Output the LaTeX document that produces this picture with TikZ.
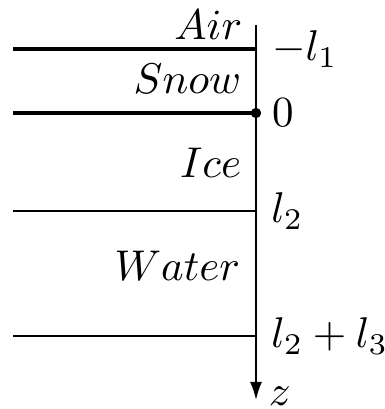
\documentclass[tikz,border=0pt]{standalone}
\usetikzlibrary{arrows.meta}
\begin{document}
\begin{tikzpicture}[x=0.23256pt,y=-0.23256pt,
  thickline/.style={line width=0.8pt},
  thinline/.style={line width=0.45pt},
  layer/.style={anchor=base east, inner sep=0pt},
  ticklabel/.style={anchor=west}]
\useasboundingbox (0,0) rectangle (384,409);
\coordinate (top) at (256,25);
\coordinate (bot) at (256,400);
\coordinate (a1) at (13,49);  \coordinate (b1) at (256,49);
\coordinate (a2) at (13,113); \coordinate (b2) at (256,113);
\coordinate (a3) at (13,211); \coordinate (b3) at (256,211);
\coordinate (a4) at (13,336); \coordinate (b4) at (256,336);
\draw[thinline,-{Latex[length=4.2pt,width=2.8pt]}] (top) -- (bot);
\node[anchor=base west, inner sep=0pt] (zl) at (268,405) {$z$};
\draw[thickline] (a1) -- (b1) node[ticklabel] (m1) {$-l_1$};
\draw[thickline] (a2) -- (b2) node[ticklabel] (m0) {$0$};
\draw[thinline] (a3) -- (b3) node[ticklabel] (m2) {$l_2$};
\draw[thinline] (a4) -- (b4) node[ticklabel] (m3) {$l_2+l_3$};
\node[circle, fill, inner sep=0pt, minimum size=2.4pt] (dot) at (b2) {};
\node[layer] (air) at (243,40) {$Air$};
\node[layer] (snow) at (242,94) {$Snow$};
\node[layer] (ice) at (242,177) {$Ice$};
\node[layer] (water) at (241,280) {$Water$};
\end{tikzpicture}
\end{document}
